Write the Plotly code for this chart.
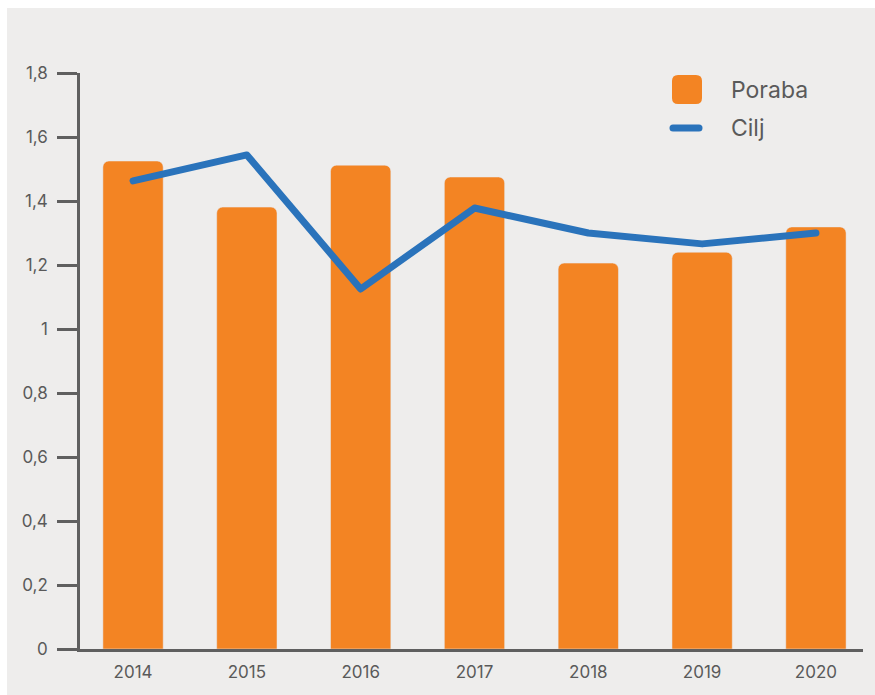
import plotly.graph_objects as go

years = ["2014", "2015", "2016", "2017", "2018", "2019", "2020"]
poraba = [1.525, 1.381, 1.512, 1.475, 1.206, 1.240, 1.319]
cilj = [1.463, 1.544, 1.125, 1.378, 1.300, 1.266, 1.300]
y_ticks = [0, 0.2, 0.4, 0.6, 0.8, 1.0, 1.2, 1.4, 1.6, 1.8]
legend_names = ["Poraba", "Cilj"]

ORANGE = "#f38423"
BLUE = "#2a73bb"
BG = "#eeedec"
TXT = "#5a5a5a"
AX = "#5f5f5f"

fig = go.Figure()
fig.add_trace(go.Bar(x=years, y=poraba, name=legend_names[0], marker_color=ORANGE,
                     width=0.53, showlegend=False))
fig.add_trace(go.Scatter(x=years, y=cilj, name=legend_names[1], mode="lines",
                         line=dict(color=BLUE, width=7), showlegend=False))

# figure placed at page offset (7, 8)
OX, OY = 7, 8
W, H = 875 - OX, 695 - OY
L, T = 80 - OX, 73 - OY
pw, ph = 790, 576
R = W - L - pw
B = H - T - ph

def px(x):  # page px -> paper
    return (x - OX - L) / pw

def py(y):
    return (T + ph - (y - OY)) / ph

def rounded_rect(x0, y0, x1, y1, r):
    X = px
    Y = py
    return (f"M {X(x0 + r)} {Y(y0)} L {X(x1 - r)} {Y(y0)} Q {X(x1)} {Y(y0)} {X(x1)} {Y(y0 + r)} "
            f"L {X(x1)} {Y(y1 - r)} Q {X(x1)} {Y(y1)} {X(x1 - r)} {Y(y1)} "
            f"L {X(x0 + r)} {Y(y1)} Q {X(x0)} {Y(y1)} {X(x0)} {Y(y1 - r)} "
            f"L {X(x0)} {Y(y0 + r)} Q {X(x0)} {Y(y0)} {X(x0 + r)} {Y(y0)} Z")

shapes = [
    dict(type="path", xref="paper", yref="paper", path=rounded_rect(672, 75, 702, 104, 6),
         fillcolor=ORANGE, line_width=0),
    dict(type="line", xref="paper", yref="paper", x0=px(673), x1=px(699), y0=py(128), y1=py(128),
         line=dict(color=BLUE, width=7)),
]
annotations = [
    dict(xref="paper", yref="paper", x=px(729), y=py(90), text=legend_names[0], showarrow=False,
         xanchor="left", yanchor="middle", font=dict(size=23, color=TXT)),
    dict(xref="paper", yref="paper", x=px(729), y=py(128), text=legend_names[1], showarrow=False,
         xanchor="left", yanchor="middle", font=dict(size=23, color=TXT)),
]

fig.update_layout(
    width=W, height=H,
    margin=dict(l=L, r=R, t=T, b=B, pad=0),
    paper_bgcolor=BG, plot_bgcolor=BG,
    separators=", ",
    font=dict(family="Inter, sans-serif", size=17, color=TXT),
    barcornerradius=6,
    shapes=shapes, annotations=annotations,
    xaxis=dict(range=[-0.466, 6.475], showgrid=False, showline=True, linecolor=AX, linewidth=2.5,
               ticks="", ticklabelstandoff=6, zeroline=False, fixedrange=True),
    yaxis=dict(range=[0, 1.8], tickvals=y_ticks, showgrid=False, showline=True, linecolor=AX,
               linewidth=2.5, ticks="outside", ticklen=20, tickwidth=2.5, tickcolor=AX,
               zeroline=False, ticklabelstandoff=6, tickformat="~g"),
)

post = (
    "document.documentElement.style.overflow='hidden';"
    "document.body.style.overflow='hidden';"
    "document.body.style.margin='%dpx 0 0 %dpx';"
    "document.body.style.padding='0';"
    "document.body.style.backgroundColor='#ffffff';"
    "function strip(css){var d=document.createElement('div');"
    "d.style.cssText='position:fixed;z-index:9999;pointer-events:none;background:%s;'+css;"
    "document.body.appendChild(d);}"
    "strip('top:%dpx;right:0;bottom:0;width:12px;');"
    "strip('left:%dpx;right:0;bottom:0;height:12px;');"
    "var gd=document.getElementById('{plot_id}');"
    "gd.querySelectorAll('path.js-line, .shapelayer path')"
    ".forEach(function(p){p.style.strokeLinecap='round';p.style.strokeLinejoin='round';});"
) % (OY, OX, BG, OY, OX)

fig.write_html("out.html", post_script=post)
